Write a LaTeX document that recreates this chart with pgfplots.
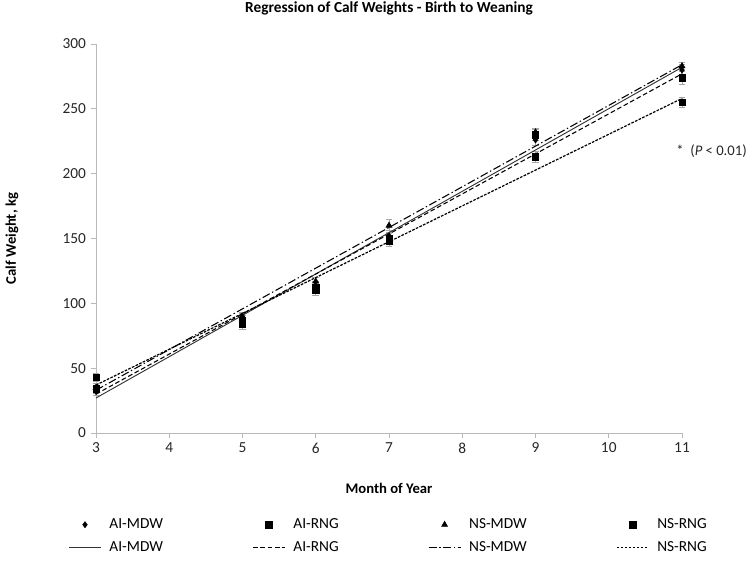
\documentclass[border=0pt]{standalone}
\usepackage{pgfplots}
\pgfplotsset{compat=1.18}
\usepackage{fontspec}
\setmainfont{Carlito}

% regression of calf weights, markers = means with SE bars, lines = fits
\begin{document}
\begin{tikzpicture}
\begin{axis}[
    name=ax,
    scale only axis,
    width=439.5pt, height=291.75pt,
    xmin=3, xmax=11, ymin=0, ymax=300,
    xtick={3,4,...,11}, ytick={0,50,...,300},
    axis lines*=left,
    axis line style={gray!55, -, line width=0.6pt},
    tick style={gray!55, line width=0.6pt},
    tick align=outside,
    major tick length=4pt,
    clip=false,
    ticklabel style={font=\fontsize{11.5}{13}\selectfont, text=black!85},
    /pgf/number format/assume math mode=true,
    xlabel={Month of Year},
    xlabel style={at={(axis description cs:0.5,-0.142)}, anchor=center,
        font=\bfseries\fontsize{11}{13}\selectfont},
    ylabel={Calf Weight, kg},
    ylabel style={at={(axis description cs:-0.1433,0.5)}, anchor=center,
        font=\bfseries\fontsize{11}{13}\selectfont},
    legend columns=4,
    legend style={at={(0.5,-0.206)}, anchor=north, draw=none,
        font=\fontsize{11.5}{13}\selectfont,
        row sep=4pt,
        /tikz/every odd column/.append style={column sep=4pt},
        /tikz/every even column/.append style={column sep=65pt}},
    legend image code/.code={
        \draw[mark repeat=2, mark phase=2, #1]
            plot coordinates {(0pt,0pt) (12pt,0pt) (24pt,0pt)};},
    every axis plot/.append style={black},
]

% --- means with error bars
\addplot[only marks, mark=diamond*, mark size=2.3pt,
    error bars/.cd, y dir=both, y explicit,
    error bar style={gray!70, line width=0.5pt},
    error mark options={gray!70, rotate=90, mark size=2.5pt}]
coordinates {
    (3,32)  +- (0,3)
    (5,89)  +- (0,3)
    (6,114) +- (0,3)
    (7,152) +- (0,4)
    (9,226) +- (0,4)
    (11,280) +- (0,4)
};
\addplot[only marks, mark=square*, mark size=2.4pt,
    error bars/.cd, y dir=both, y explicit,
    error bar style={gray!70, line width=0.5pt},
    error mark options={gray!70, rotate=90, mark size=2.5pt}]
coordinates {
    (3,34)  +- (0,3)
    (5,87)  +- (0,4)
    (6,112) +- (0,4)
    (7,150) +- (0,4)
    (9,230) +- (0,4)
    (11,274) +- (0,5)
};
\addplot[only marks, mark=triangle*, mark size=2.6pt,
    error bars/.cd, y dir=both, y explicit,
    error bar style={gray!70, line width=0.5pt},
    error mark options={gray!70, rotate=90, mark size=2.5pt}]
coordinates {
    (3,35)  +- (0,3)
    (5,90)  +- (0,3)
    (6,117) +- (0,3)
    (7,160) +- (0,5)
    (9,232) +- (0,3)
    (11,283) +- (0,3)
};
\addplot[only marks, mark=square*, mark size=2.4pt,
    error bars/.cd, y dir=both, y explicit,
    error bar style={gray!70, line width=0.5pt},
    error mark options={gray!70, rotate=90, mark size=2.5pt}]
coordinates {
    (3,43)  +- (0,3)
    (5,84)  +- (0,4)
    (6,110) +- (0,4)
    (7,148) +- (0,4)
    (9,213) +- (0,4)
    (11,255) +- (0,4)
};

% --- regression lines
\addplot[line width=0.7pt, black!80] coordinates {(3,27) (11,282)};
\addplot[line width=0.8pt, dash pattern=on 3.5pt off 2pt] coordinates {(3,30) (11,277)};
\addplot[line width=0.8pt, dash pattern=on 6pt off 2pt on 1pt off 2pt] coordinates {(3,33) (11,284)};
\addplot[line width=0.9pt, dash pattern=on 2pt off 1pt] coordinates {(3,37) (11,258)};

\legend{AI-MDW,AI-RNG,NS-MDW,NS-RNG,AI-MDW,AI-RNG,NS-MDW,NS-RNG}

\node[font=\bfseries\fontsize{11.5}{13}\selectfont, inner sep=0pt]
    at ([yshift=27pt]rel axis cs:0.5,1) {Regression of Calf Weights - Birth to Weaning};

\node[anchor=west, font=\fontsize{11}{13}\selectfont, text=black!85, inner sep=0pt]
    at (axis cs:10.92,217.6) {*\ \ (\textit{P} < 0.01)};

\coordinate (bl) at (rel axis cs:0,0);
\coordinate (tr) at (rel axis cs:1,1);
\end{axis}
\pgfresetboundingbox
\path ([shift={(-72pt,-97.5pt)}]bl) rectangle ([shift={(51pt,33pt)}]tr);
\end{tikzpicture}
\end{document}
